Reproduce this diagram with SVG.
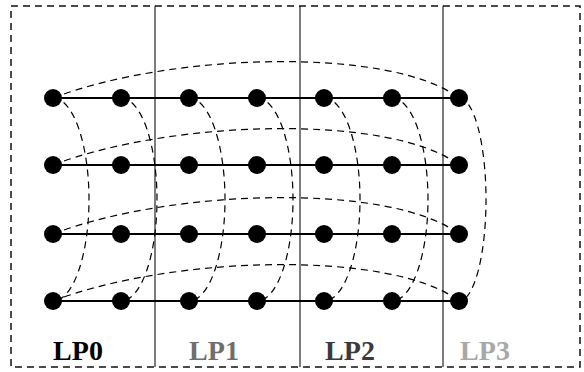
<svg xmlns="http://www.w3.org/2000/svg" width="584" height="372" viewBox="0 0 584 372">
<style>
.border{fill:none;stroke:#111;stroke-width:1.5;stroke-dasharray:7 5}
.sep{stroke:#111;stroke-width:1.1}
.row{stroke:#000;stroke-width:1.8}
.dash{fill:none;stroke:#000;stroke-width:1.2;stroke-dasharray:7 5}
.node{fill:#000}
.lbl{font-family:"Liberation Serif","Times New Roman",serif;font-weight:bold;font-size:28px;text-anchor:middle}
</style>
<rect class="border" x="11" y="6" width="569" height="361"/>
<g id="separators">
<line class="sep" x1="155" y1="6" x2="155" y2="367"/>
<line class="sep" x1="300" y1="6" x2="300" y2="367"/>
<line class="sep" x1="443" y1="6" x2="443" y2="367"/>
</g>
<g id="connectors">
<line class="row" x1="53" y1="98" x2="459" y2="98"/>
<line class="row" x1="53" y1="165" x2="459" y2="165"/>
<line class="row" x1="53" y1="234" x2="459" y2="234"/>
<line class="row" x1="53" y1="301" x2="459" y2="301"/>
<path class="dash" d="M53 98 C170 53 390 46 459 98"/>
<path class="dash" d="M53 165 C170 120 390 113 459 165"/>
<path class="dash" d="M53 234 C170 189 390 182 459 234"/>
<path class="dash" d="M53 301 C170 256 390 249 459 301"/>
<path class="dash" d="M53 98 A36 101.5 0 0 1 53 301"/>
<path class="dash" d="M121 98 A36 101.5 0 0 1 121 301"/>
<path class="dash" d="M189 98 A36 101.5 0 0 1 189 301"/>
<path class="dash" d="M257 98 A36 101.5 0 0 1 257 301"/>
<path class="dash" d="M324 98 A36 101.5 0 0 1 324 301"/>
<path class="dash" d="M392 98 A36 101.5 0 0 1 392 301"/>
<path class="dash" d="M459 98 A27 101.5 0 0 1 459 301"/>
</g>
<g id="nodes">
<g id="r0">
<circle class="node" cx="53" cy="98" r="9"/><circle class="node" cx="121" cy="98" r="9"/><circle class="node" cx="189" cy="98" r="9"/><circle class="node" cx="257" cy="98" r="9"/><circle class="node" cx="324" cy="98" r="9"/><circle class="node" cx="392" cy="98" r="9"/><circle class="node" cx="459" cy="98" r="9"/>
</g>
<g id="r1">
<circle class="node" cx="53" cy="165" r="9"/><circle class="node" cx="121" cy="165" r="9"/><circle class="node" cx="189" cy="165" r="9"/><circle class="node" cx="257" cy="165" r="9"/><circle class="node" cx="324" cy="165" r="9"/><circle class="node" cx="392" cy="165" r="9"/><circle class="node" cx="459" cy="165" r="9"/>
</g>
<g id="r2">
<circle class="node" cx="53" cy="234" r="9"/><circle class="node" cx="121" cy="234" r="9"/><circle class="node" cx="189" cy="234" r="9"/><circle class="node" cx="257" cy="234" r="9"/><circle class="node" cx="324" cy="234" r="9"/><circle class="node" cx="392" cy="234" r="9"/><circle class="node" cx="459" cy="234" r="9"/>
</g>
<g id="r3">
<circle class="node" cx="53" cy="301" r="9"/><circle class="node" cx="121" cy="301" r="9"/><circle class="node" cx="189" cy="301" r="9"/><circle class="node" cx="257" cy="301" r="9"/><circle class="node" cx="324" cy="301" r="9"/><circle class="node" cx="392" cy="301" r="9"/><circle class="node" cx="459" cy="301" r="9"/>
</g>
</g>
<g id="labels">
<text class="lbl" x="78" y="360" fill="#000">LP0</text>
<text class="lbl" x="214" y="360" fill="#6e6e6e">LP1</text>
<text class="lbl" x="350" y="360" fill="#3a3a3a">LP2</text>
<text class="lbl" x="485" y="360" fill="#a8a8a8">LP3</text>
</g>
</svg>
